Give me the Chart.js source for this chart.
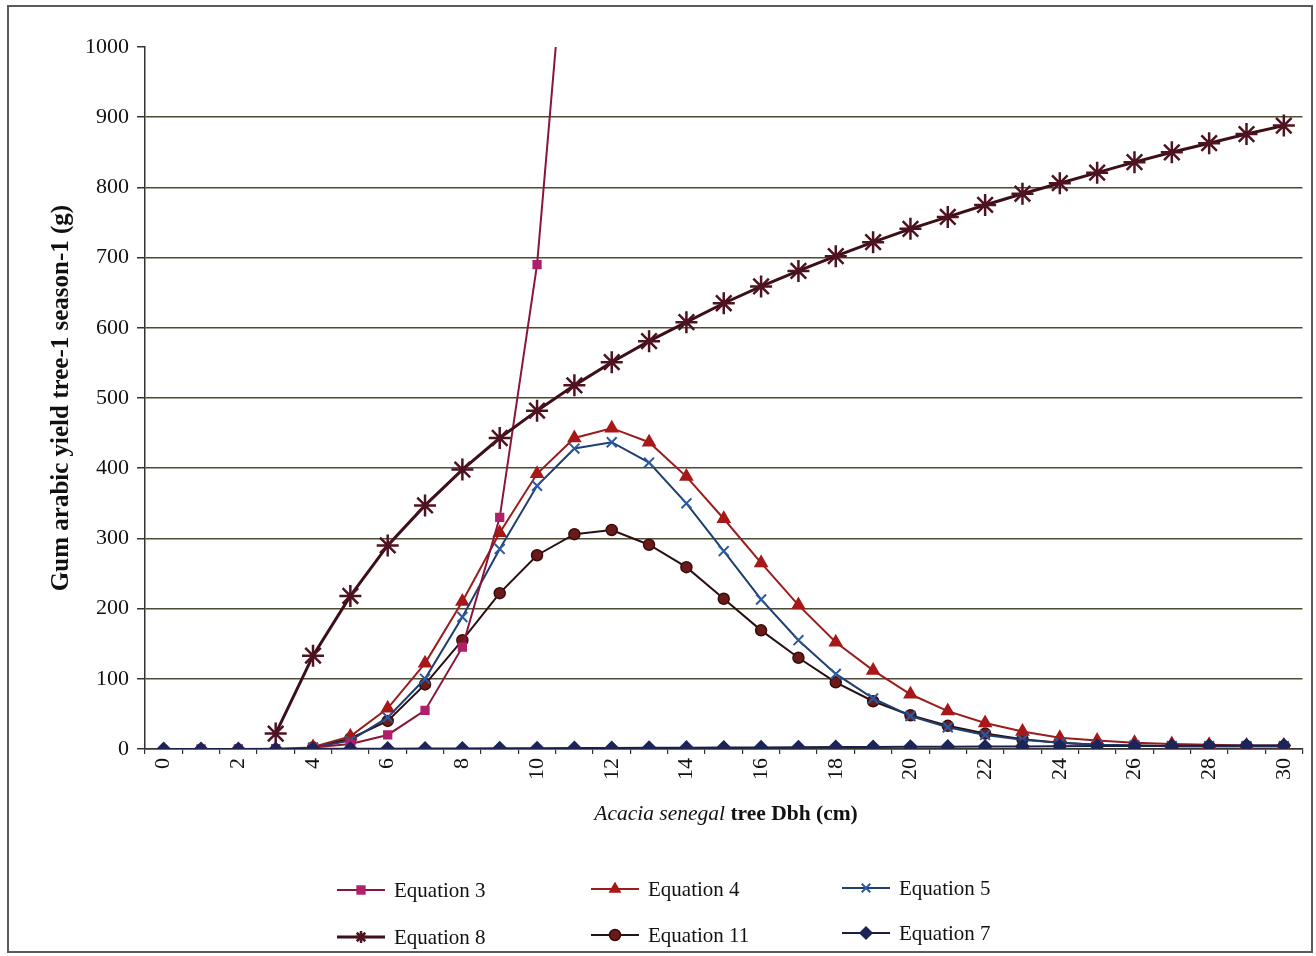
<!DOCTYPE html>
<html>
<head>
<meta charset="utf-8">
<script src="https://cdn.jsdelivr.net/npm/chart.js@4.4.1/dist/chart.umd.min.js"></script>
<style>
  html, body { margin: 0; padding: 0; background: #fff; }
  #wrap { width: 1316px; height: 956px; position: relative; }
</style>
</head>
<body>
<div id="wrap"><canvas id="gumChart" width="1316" height="956"></canvas></div>
<script>
// Dbh categories (cm)
const dbh = ["0","1","2","3","4","5","6","7","8","9","10","11","12","13","14","15","16","17","18","19","20","21","22","23","24","25","26","27","28","29","30"];

// gum yield per tree and season (g)
const eq3  = [null, 0, 0, 0.5, 2, 7, 20, 55, 145, 330, 690, 1310, null, null, null, null, null, null, null, null, null, null, null, null, null, null, null, null, null, null, null];
const eq4  = [null, null, null, null, 3, 18, 58, 122, 210, 308, 392, 443, 457, 437, 388, 328, 265, 205, 152, 112, 78, 54, 37, 25, 16, 12, 9, 7, 6, 5, 5];
const eq5  = [null, null, null, null, 2, 12, 45, 100, 188, 285, 375, 428, 437, 408, 350, 282, 213, 155, 107, 72, 47, 31, 20, 13, 9, 6, 5, 4, 4, 4, 4];
const eq8  = [null, null, null, 22, 133, 218, 290, 347, 398, 443, 482, 518, 551, 581, 608, 635, 659, 681, 702, 722, 741, 758, 775, 791, 806, 821, 836, 850, 863, 876, 888];
const eq11 = [null, null, null, null, 2, 15, 40, 92, 155, 222, 276, 306, 312, 291, 259, 214, 169, 130, 95, 68, 48, 33, 22, 14, 9, 6, 5, 4, 4, 4, 4];
const eq7  = [0, 0, 0, 0, 0.2, 0.3, 0.5, 0.6, 0.8, 1, 1.1, 1.3, 1.5, 1.7, 1.9, 2.1, 2.3, 2.5, 2.7, 2.9, 3.1, 3.3, 3.5, 3.7, 3.9, 4.1, 4.3, 4.5, 4.7, 4.9, 5.1];

const yTicks = [0, 100, 200, 300, 400, 500, 600, 700, 800, 900, 1000];

const serif = "'Liberation Serif', 'DejaVu Serif', serif";

// legend grid: 3 columns, 2 rows (like the original)
const legendPos = [
  { x: 337, y: 890 }, { x: 591, y: 889 }, { x: 842, y: 888 },
  { x: 337, y: 937 }, { x: 591, y: 935 }, { x: 842, y: 933 }
];

function series(label, data, line, point, style, radius, order, extra) {
  return Object.assign({
    label: label,
    data: data,
    borderColor: line,
    backgroundColor: point,
    pointBackgroundColor: point,
    pointBorderColor: point,
    pointStyle: style,
    pointRadius: radius,
    pointBorderWidth: 1.5,
    borderWidth: 2,
    tension: 0,
    order: order
  }, extra || {});
}

const datasets = [
  series("Equation 3", eq3, "#8a1538", "#b0206a", "rect", eq3.map((v, i) => i === 11 ? 0 : 5.5), 2),
  series("Equation 4", eq4, "#9b1c1c", "#a81818", "triangle", 7, 4),
  series("Equation 5", eq5, "#1f3f70", "#2b5aa0", "crossRot", 7, 3, { pointBorderWidth: 2 }),
  series("Equation 8", eq8, "#3d0f18", "#4e1220", "star", 11, 1, { borderWidth: 3, pointBorderWidth: 2.5 }),
  series("Equation 11", eq11, "#2a1010", "#6b1a1a", "circle", 5.5, 5, { pointBorderColor: "#3a0c0c" }),
  series("Equation 7", eq7, "#1a1f4a", "#1c2556", "rectRot", 6.5, 0)
];

// titles, frame and legend drawn on the canvas
const decorPlugin = {
  id: "decor",
  afterDraw(chart) {
    const ctx = chart.ctx;
    ctx.save();

    // outer frame
    ctx.strokeStyle = "#5a5a5a";
    ctx.lineWidth = 2;
    ctx.strokeRect(8, 6, 1304, 946);

    // y title
    ctx.fillStyle = "#111";
    ctx.font = "bold 25px " + serif;
    ctx.textAlign = "center";
    ctx.textBaseline = "middle";
    ctx.translate(62, 398);
    ctx.rotate(-Math.PI / 2);
    ctx.fillText("Gum arabic yield tree-1 season-1 (g)", 0, 0);
    ctx.setTransform(1, 0, 0, 1, 0, 0);

    // x title (mixed italic / bold)
    const partA = "Acacia senegal";
    const partB = " tree Dbh (cm)";
    ctx.textAlign = "left";
    ctx.font = "italic 21.5px " + serif;
    const wA = ctx.measureText(partA).width;
    ctx.font = "bold 21.5px " + serif;
    const wB = ctx.measureText(partB).width;
    let x0 = 726 - (wA + wB) / 2;
    ctx.font = "italic 21.5px " + serif;
    ctx.fillText(partA, x0, 814);
    ctx.font = "bold 21.5px " + serif;
    ctx.fillText(partB, x0 + wA, 814);

    // legend
    chart.data.datasets.forEach((ds, i) => {
      const p = legendPos[i];
      ctx.strokeStyle = ds.borderColor;
      ctx.lineWidth = ds.borderWidth;
      ctx.beginPath();
      ctx.moveTo(p.x, p.y);
      ctx.lineTo(p.x + 48, p.y);
      ctx.stroke();
      ctx.fillStyle = ds.pointBackgroundColor;
      ctx.strokeStyle = ds.pointBorderColor;
      ctx.lineWidth = ds.pointBorderWidth;
      const r = typeof ds.pointRadius === "number" ? ds.pointRadius : 5.5;
      Chart.helpers.drawPoint(ctx, {
        pointStyle: ds.pointStyle,
        radius: Math.min(r, 6),
        borderWidth: ds.pointBorderWidth,
        rotation: 0
      }, p.x + 24, p.y);
      ctx.fillStyle = "#111";
      ctx.font = "21px " + serif;
      ctx.textAlign = "left";
      ctx.textBaseline = "middle";
      ctx.fillText(ds.label, p.x + 57, p.y + 1);
    });

    ctx.restore();
  }
};

new Chart(document.getElementById("gumChart"), {
  type: "line",
  data: { labels: dbh, datasets: datasets },
  plugins: [decorPlugin],
  options: {
    responsive: false,
    devicePixelRatio: 1,
    animation: false,
    layout: { padding: { top: 47, right: 12, left: 0, bottom: 0 } },
    plugins: {
      legend: { display: false },
      tooltip: { enabled: false }
    },
    scales: {
      x: {
        type: "category",
        offset: true,
        afterFit(scale) { scale.height = 207; },
        grid: {
          offset: true,
          drawOnChartArea: false,
          drawTicks: true,
          tickLength: 5,
          tickColor: "#333",
          lineWidth: 1.2
        },
        border: { display: true, color: "#333", width: 1.5 },
        ticks: {
          autoSkip: false,
          maxRotation: 90,
          minRotation: 90,
          padding: 4,
          color: "#111",
          font: { family: serif, size: 22 },
          callback: (v, i) => (i % 2 === 0 ? dbh[i] : "")
        }
      },
      y: {
        min: 0,
        max: 1000,
        afterFit(scale) { scale.width = 145; },
        afterBuildTicks(scale) { scale.ticks = yTicks.map(v => ({ value: v })); },
        grid: {
          color: (c) => (c.tick && c.tick.value === 1000 ? "rgba(0,0,0,0)" : "#4d4a35"),
          lineWidth: 1.5,
          tickLength: 8,
          tickColor: "#333"
        },
        border: { display: true, color: "#333", width: 1.5 },
        ticks: {
          padding: 8,
          color: "#111",
          font: { family: serif, size: 22 },
          callback: (v) => String(v)
        }
      }
    }
  }
});
</script>
</body>
</html>
